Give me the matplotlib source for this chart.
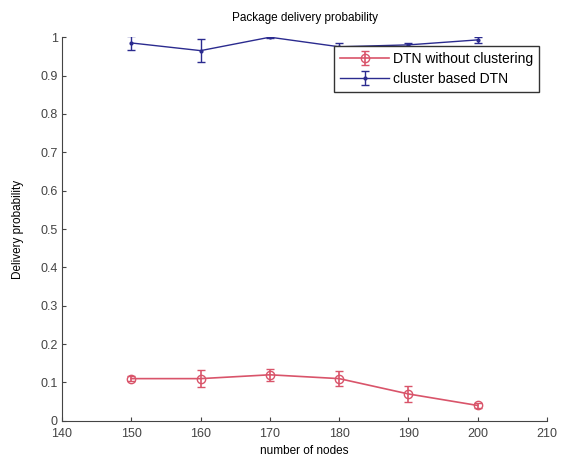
import matplotlib
matplotlib.use("Agg")
import matplotlib.pyplot as plt

plt.rcParams['font.family'] = ['Liberation Sans', 'DejaVu Sans']

nodes = [150, 160, 170, 180, 190, 200]
dtn_plain = [0.11, 0.11, 0.12, 0.11, 0.07, 0.04]
dtn_plain_err = [0.006, 0.022, 0.015, 0.02, 0.02, 0.006]
dtn_cluster = [0.985, 0.965, 1.0, 0.975, 0.98, 0.993]
dtn_cluster_err = [0.018, 0.03, 0.002, 0.01, 0.005, 0.008]

fig = plt.figure(figsize=(5.64, 4.65), dpi=100)
ax = fig.add_axes([0.11, 0.095, 0.86, 0.825])

red = '#d9546a'
blue = '#2b2b8f'
ax.errorbar(nodes, dtn_plain, yerr=dtn_plain_err, color=red, marker='o',
            markersize=6, markerfacecolor='none', markeredgecolor=red,
            capsize=3, linewidth=1.2, label='DTN without clustering')
ax.errorbar(nodes, dtn_cluster, yerr=dtn_cluster_err, color=blue, marker='.',
            markersize=4, capsize=3, linewidth=1.0, label='cluster based DTN')

ax.set_xlim(140, 210)
ax.set_ylim(0, 1)
ax.set_xticks(range(140, 211, 10))
ax.set_yticks([i / 10 for i in range(11)])
ax.set_yticklabels(['0', '0.1', '0.2', '0.3', '0.4', '0.5', '0.6', '0.7', '0.8', '0.9', '1'])
ax.tick_params(direction='in', labelsize=9, length=3, colors='#444444')
ax.tick_params(axis='x', pad=5)
ax.tick_params(axis='y', pad=3)
ax.spines['top'].set_visible(False)
ax.spines['right'].set_visible(False)
for s in ['left', 'bottom']:
    ax.spines[s].set_color('#444444')

ax.set_xlabel('number of nodes', fontsize=8.5, labelpad=4)
ax.set_ylabel('Delivery probability', fontsize=8.5, labelpad=12)
ax.set_title('Package delivery probability', fontsize=8.5, pad=12)
ax.legend(loc='upper right', bbox_to_anchor=(0.99, 0.985), fontsize=10,
          fancybox=False, edgecolor='#333333', framealpha=1,
          borderpad=0.45, labelspacing=0.45, handlelength=3.5,
          handletextpad=0.3, borderaxespad=0.2)

fig.savefig('out.png', dpi=100)
